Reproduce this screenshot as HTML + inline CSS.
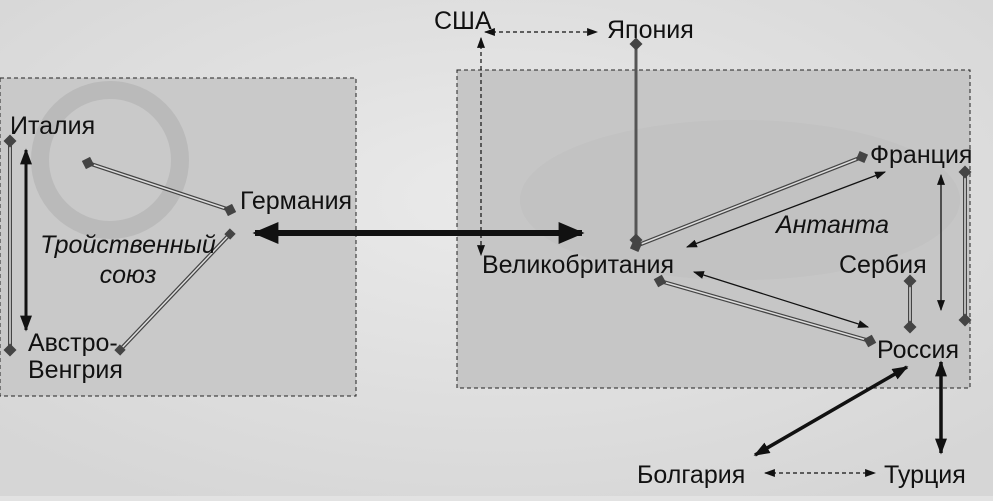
<!DOCTYPE html>
<html><head><meta charset="utf-8"><style>
body{margin:0;width:993px;height:496px;overflow:hidden;background:#e2e2e2;}
text{font-family:"Liberation Sans",sans-serif;font-size:25px;fill:#111;}
</style></head><body>
<svg width="993" height="496" viewBox="0 0 993 496" xmlns="http://www.w3.org/2000/svg">
<defs>
<marker id="a" viewBox="0 0 10 10" refX="9" refY="5" markerUnits="userSpaceOnUse" markerWidth="11" markerHeight="8" orient="auto-start-reverse" preserveAspectRatio="none"><path d="M0,0L10,5L0,10z" fill="#111"/></marker>
<marker id="m" viewBox="0 0 10 10" refX="9" refY="5" markerUnits="userSpaceOnUse" markerWidth="16" markerHeight="12" orient="auto-start-reverse" preserveAspectRatio="none"><path d="M0,0L10,5L0,10z" fill="#111"/></marker>
<marker id="b" viewBox="0 0 10 10" refX="9" refY="5" markerUnits="userSpaceOnUse" markerWidth="26" markerHeight="22" orient="auto-start-reverse" preserveAspectRatio="none"><path d="M0,0L10,5L0,10z" fill="#111"/></marker>
<marker id="d" viewBox="0 0 10 10" refX="5" refY="5" markerUnits="userSpaceOnUse" markerWidth="13" markerHeight="13" orient="auto"><path d="M5,0L10,5L5,10L0,5z" fill="#444"/></marker>
<marker id="s" viewBox="0 0 10 10" refX="5" refY="5" markerUnits="userSpaceOnUse" markerWidth="10" markerHeight="10" orient="auto"><path d="M1,1H9V9H1z" fill="#444"/></marker>
<radialGradient id="g" cx="0.5" cy="0.4" r="0.7"><stop offset="0" stop-color="#eaeaea"/><stop offset="1" stop-color="#d6d6d6"/></radialGradient>
</defs>
<rect width="993" height="496" fill="url(#g)"/>
<rect x="0" y="78" width="356" height="318" fill="#c9c9c9" stroke="#222" stroke-dasharray="4,3"/>
<rect x="457" y="70" width="513" height="318" fill="#c6c6c6" stroke="#222" stroke-dasharray="4,3"/>
<ellipse cx="740" cy="200" rx="220" ry="80" fill="#bdbdbd" opacity="0.5"/>
<ellipse cx="110" cy="160" rx="70" ry="70" fill="none" stroke="#b0b0b0" stroke-width="18" opacity="0.6"/>
<g fill="none">
<g stroke="#444" stroke-width="4">
<line x1="10" y1="141" x2="10" y2="350"/><line x1="88" y1="163" x2="230" y2="210"/><line x1="230" y1="234" x2="120" y2="350"/>
<line x1="636" y1="246" x2="862" y2="157"/><line x1="660" y1="281" x2="870" y2="341"/><line x1="910" y1="281" x2="910" y2="327"/><line x1="965" y1="172" x2="965" y2="320"/>
</g>
<g stroke="#ddd" stroke-width="1.5">
<line x1="10" y1="141" x2="10" y2="350" marker-start="url(#d)" marker-end="url(#d)"/><line x1="88" y1="163" x2="230" y2="210" marker-start="url(#d)" marker-end="url(#d)"/><line x1="230" y1="234" x2="120" y2="350" marker-start="url(#s)" marker-end="url(#s)"/>
<line x1="636" y1="246" x2="862" y2="157" marker-start="url(#d)" marker-end="url(#d)"/><line x1="660" y1="281" x2="870" y2="341" marker-start="url(#d)" marker-end="url(#d)"/><line x1="910" y1="281" x2="910" y2="327" marker-start="url(#d)" marker-end="url(#d)"/><line x1="965" y1="172" x2="965" y2="320" marker-start="url(#d)" marker-end="url(#d)"/>
</g>
<line x1="636" y1="44" x2="636" y2="240" stroke="#555" stroke-width="3" marker-start="url(#d)" marker-end="url(#d)"/>
<line x1="255" y1="233" x2="582" y2="233" stroke="#111" stroke-width="6" marker-start="url(#b)" marker-end="url(#b)"/>
<line x1="26" y1="150" x2="26" y2="330" stroke="#111" stroke-width="3" marker-start="url(#m)" marker-end="url(#m)"/>
<line x1="687" y1="247" x2="885" y2="172" stroke="#111" stroke-width="1.3" marker-start="url(#a)" marker-end="url(#a)"/>
<line x1="694" y1="272" x2="868" y2="327" stroke="#111" stroke-width="1.3" marker-start="url(#a)" marker-end="url(#a)"/>
<line x1="941" y1="175" x2="941" y2="310" stroke="#111" stroke-width="1.3" marker-start="url(#a)" marker-end="url(#a)"/>
<line x1="907" y1="367" x2="755" y2="455" stroke="#111" stroke-width="3.5" marker-start="url(#m)" marker-end="url(#m)"/>
<line x1="941" y1="362" x2="941" y2="453" stroke="#111" stroke-width="3.5" marker-start="url(#m)" marker-end="url(#m)"/>
<g stroke="#111" stroke-width="1.2" stroke-dasharray="4,3">
<line x1="485" y1="32" x2="597" y2="32" marker-start="url(#a)" marker-end="url(#a)"/>
<line x1="481" y1="38" x2="481" y2="255" marker-start="url(#a)" marker-end="url(#a)"/>
<line x1="765" y1="473" x2="875" y2="473" marker-start="url(#a)" marker-end="url(#a)"/>
</g>
</g>
<text x="434" y="29">США</text>
<text x="607" y="38">Япония</text>
<text x="10" y="134">Италия</text>
<text x="240" y="209">Германия</text>
<text x="128" y="253" text-anchor="middle" font-style="italic" fill="#333" font-size="25">Тройственный</text>
<text x="128" y="283" text-anchor="middle" font-style="italic" fill="#333" font-size="25">союз</text>
<text x="28" y="351">Австро-</text>
<text x="28" y="378">Венгрия</text>
<text x="482" y="273">Великобритания</text>
<text x="870" y="163">Франция</text>
<text x="776" y="233" font-style="italic" fill="#777" font-size="25">Антанта</text>
<text x="839" y="273">Сербия</text>
<text x="877" y="358">Россия</text>
<text x="637" y="483">Болгария</text>
<text x="884" y="483">Турция</text>
</svg>
</body></html>
